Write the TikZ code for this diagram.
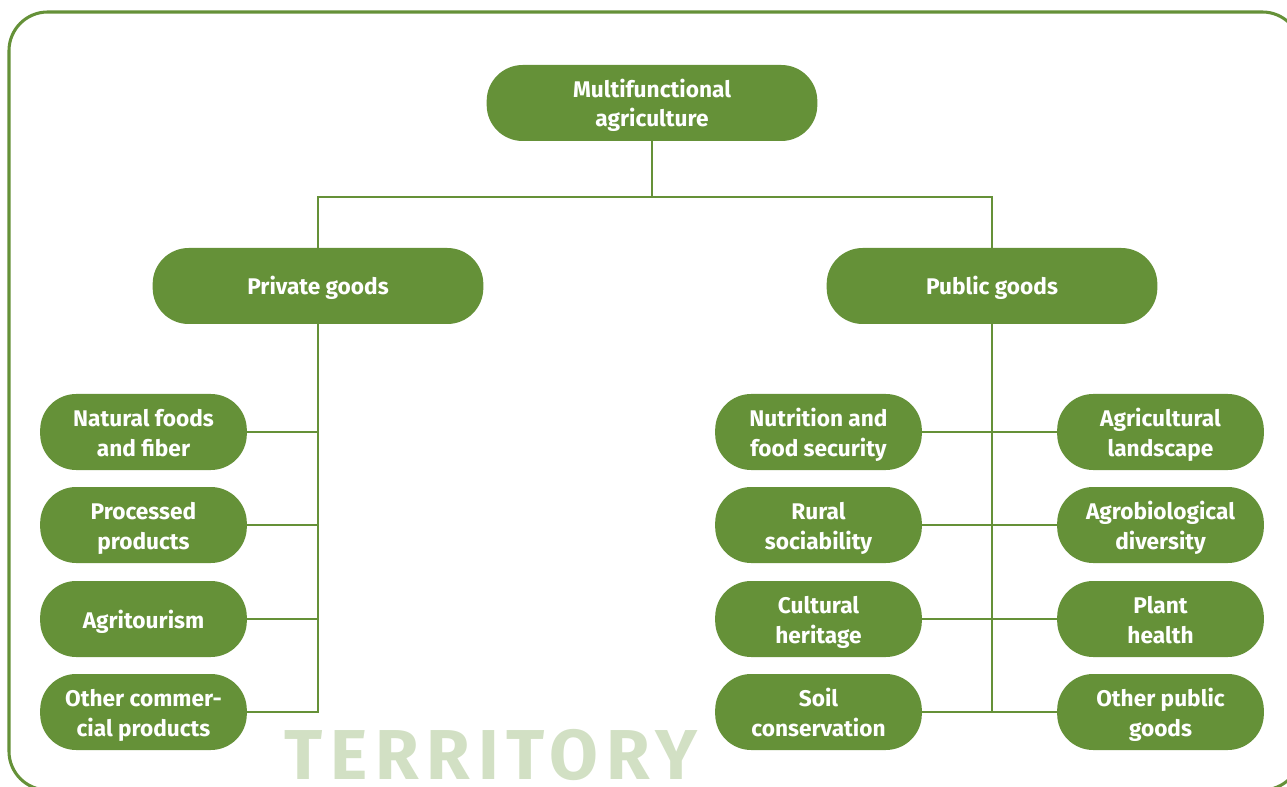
\documentclass[tikz,border=0pt]{standalone}
\usepackage{fontspec}
\setmainfont{Fira Sans}
\usetikzlibrary{positioning}

\definecolor{leafgreen}{RGB}{101,145,56}
\definecolor{palegreen}{RGB}{210,224,196}

\tikzset{
  goods/.style={fill=leafgreen, text=white, rounded corners=27pt, align=center,
    minimum width=155pt, minimum height=57pt, inner sep=0pt,
    text height=39pt, text depth=3pt,
    font=\fontsize{17}{22}\selectfont\bfseries},
  oneline/.style={text height=16.5pt},
  wide/.style={goods, minimum width=248pt},
  link/.style={draw=leafgreen, line width=1.9pt}
}

\begin{document}
\begin{tikzpicture}[x=0.75pt, y=-0.75pt]
\useasboundingbox (0,0) rectangle (1287,787);
\begin{scope}
\clip (0,0) rectangle (1287,787);
\draw[leafgreen, line width=2.3pt, rounded corners=29pt] (9,12) rectangle (1301,790);
\end{scope}

\node[font=\fontsize{53}{53}\selectfont\bfseries\addfontfeature{LetterSpace=11}, text=palegreen, inner sep=0pt, anchor=base] (territory) at (491,779) {TERRITORY};

\node[wide] (node_0_0) [] at (652,103) {Multifunctional\\agriculture};
\node[wide, oneline] (node_-1_-1) [] at (318,286) {Private goods};
\node[wide, oneline] (node_1_-1) [] at (992,286) {Public goods};
\draw[link] (node_0_0.south) -- (652,197) -| (node_-1_-1.north);
\draw[link] (652,197) -| (node_1_-1.north);

% private goods
\node[goods] (node_-2_-2) [] at (143.5,432) {Natural foods\\and fiber};
\node[goods] (node_-2_-3) [] at (143.5,525) {Processed\\products};
\node[goods, oneline] (node_-2_-4) [] at (143.5,619) {Agritourism};
\node[goods] (node_-2_-5) [] at (143.5,712) {Other commer-\\cial products};
\draw[link] (node_-1_-1.south) |- (node_-2_-5.east);
\draw[link] (node_-2_-2.east) -- (node_-1_-1.south |- node_-2_-2.east);
\draw[link] (node_-2_-3.east) -- (node_-1_-1.south |- node_-2_-3.east);
\draw[link] (node_-2_-4.east) -- (node_-1_-1.south |- node_-2_-4.east);

% public goods
\node[goods] (node_1_-2) [] at (818.5,432) {Nutrition and\\food security};
\node[goods] (node_1_-3) [] at (818.5,525) {Rural\\sociability};
\node[goods] (node_1_-4) [] at (818.5,619) {Cultural\\heritage};
\node[goods] (node_1_-5) [] at (818.5,712) {Soil\\conservation};
\node[goods] (node_2_-2) [] at (1160.5,432) {Agricultural\\landscape};
\node[goods] (node_2_-3) [] at (1160.5,525) {Agrobiological\\diversity};
\node[goods] (node_2_-4) [] at (1160.5,619) {Plant\\health};
\node[goods] (node_2_-5) [] at (1160.5,712) {Other public\\goods};
\draw[link] (node_1_-1.south) -- (node_1_-1.south |- node_1_-5.east);
\draw[link] (node_1_-2.east) -- (node_2_-2.west);
\draw[link] (node_1_-3.east) -- (node_2_-3.west);
\draw[link] (node_1_-4.east) -- (node_2_-4.west);
\draw[link] (node_1_-5.east) -- (node_2_-5.west);
\end{tikzpicture}
\end{document}
